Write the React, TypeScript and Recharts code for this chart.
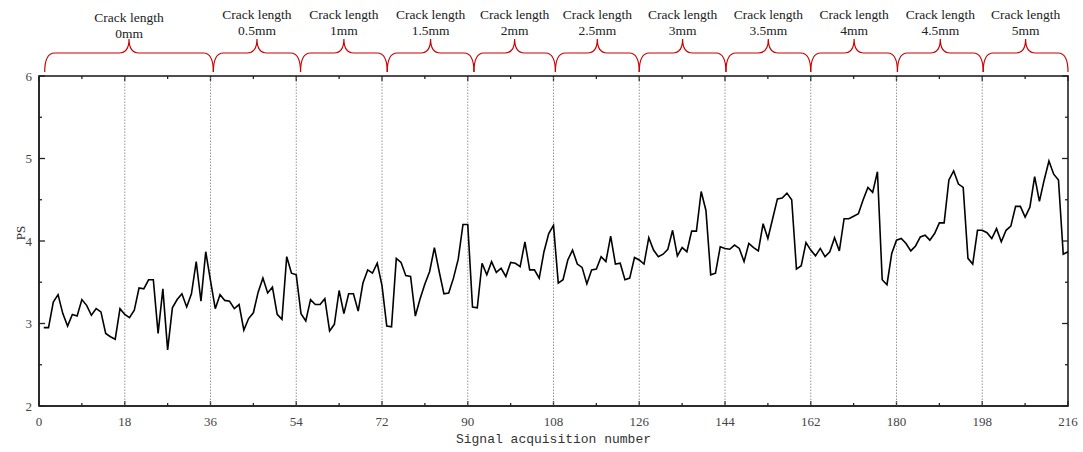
import { LineChart, Line, XAxis, YAxis, ReferenceLine, ReferenceArea } from 'recharts';

// PS value for acquisition number 1..216 (18 per crack length, first group 36)
const psValues = [
  2.95, 2.95, 3.26, 3.35, 3.12, 2.97, 3.11, 3.09, 3.29, 3.22, 3.1, 3.18, 3.14, 2.88, 2.84, 2.81, 3.18, 3.11,
  3.07, 3.16, 3.43, 3.42, 3.53, 3.53, 2.88, 3.42, 2.68, 3.19, 3.29, 3.36, 3.2, 3.36, 3.75, 3.27, 3.87, 3.52,
  3.18, 3.35, 3.28, 3.27, 3.18, 3.23, 2.92, 3.06, 3.13, 3.38, 3.55, 3.37, 3.44, 3.11, 3.05, 3.81, 3.61, 3.59,
  3.12, 3.03, 3.29, 3.23, 3.23, 3.3, 2.91, 2.99, 3.4, 3.12, 3.36, 3.36, 3.15, 3.49, 3.65, 3.61, 3.73, 3.46,
  2.97, 2.96, 3.79, 3.74, 3.58, 3.57, 3.09, 3.3, 3.48, 3.63, 3.92, 3.63, 3.36, 3.37, 3.55, 3.78, 4.2, 4.2,
  3.2, 3.19, 3.73, 3.59, 3.75, 3.62, 3.67, 3.57, 3.74, 3.73, 3.69, 3.99, 3.65, 3.65, 3.55, 3.87, 4.09, 4.19,
  3.49, 3.53, 3.77, 3.89, 3.72, 3.68, 3.48, 3.65, 3.66, 3.81, 3.75, 4.06, 3.72, 3.73, 3.53, 3.55, 3.8, 3.77,
  3.72, 4.04, 3.89, 3.81, 3.84, 3.9, 4.13, 3.82, 3.92, 3.87, 4.12, 4.12, 4.6, 4.37, 3.59, 3.61, 3.93, 3.91,
  3.9, 3.95, 3.91, 3.75, 3.97, 3.92, 3.88, 4.21, 4.03, 4.27, 4.51, 4.52, 4.58, 4.5, 3.66, 3.7, 3.98, 3.89,
  3.82, 3.91, 3.81, 3.87, 4.04, 3.88, 4.27, 4.27, 4.3, 4.33, 4.5, 4.65, 4.59, 4.84, 3.53, 3.47, 3.85, 4.01,
  4.03, 3.97, 3.88, 3.94, 4.05, 4.07, 4.01, 4.09, 4.22, 4.22, 4.74, 4.85, 4.69, 4.65, 3.79, 3.72, 4.13, 4.13,
  4.1, 4.03, 4.15, 3.99, 4.13, 4.18, 4.42, 4.42, 4.29, 4.41, 4.78, 4.48, 4.74, 4.97, 4.81, 4.74, 3.84, 3.87,
];

const xTicks = [0, 9, 18, 27, 36, 45, 54, 63, 72, 81, 90, 99, 108, 117, 126, 135, 144, 153, 162, 171, 180, 189, 198, 207, 216];
const yTicks = [2, 2.5, 3, 3.5, 4, 4.5, 5, 5.5, 6];
const groupLines = [18, 36, 54, 72, 90, 108, 126, 144, 162, 180, 198];

const crackLabels = ['0mm', '0.5mm', '1mm', '1.5mm', '2mm', '2.5mm', '3mm', '3.5mm', '4mm', '4.5mm', '5mm'];
const braceEdges = [1.2, 36.6, 54.9, 73.1, 91.3, 108.4, 126, 144.2, 162, 180.2, 198.2, 216];

const data = psValues.map((ps, i) => ({ n: i + 1, ps }));

const AXIS = '#222';
const SERIF = '"Liberation Serif", "Times New Roman", serif';
const RED = '#cc0000';
const EPS_X = 0.02;
const EPS_Y = 0.0005;

function BottomLabel({ x, y, payload }: any) {
  const v = payload.value;
  if (v % 18 !== 0) return <g />;
  return (
    <text x={x} y={Number(y) + 15} dy="0.35em" textAnchor="middle" fontFamily={SERIF} fontSize={13} fill="#444">
      {v}
    </text>
  );
}

function LeftLabel({ x, y, payload }: any) {
  const v = payload.value;
  if (!Number.isInteger(v)) return <g />;
  return (
    <text x={Number(x) - 7} y={y} dy="0.35em" textAnchor="end" fontFamily={SERIF} fontSize={13} fill="#444">
      {v}
    </text>
  );
}

// box round the plot area (the area spans the whole domain)
const frameShape = (p: any) => (
  <rect x={p.x} y={p.y} width={p.width} height={p.height} fill="none" stroke={AXIS} strokeWidth={1.6} />
);

// inward tick stubs: a thin area centred on the tick value gives the scaled position
const xStub = (major: boolean) => (p: any) => {
  const len = major ? 5 : 3;
  const cx = p.x + p.width / 2;
  const top = p.y;
  const bottom = p.y + p.height;
  return (
    <g>
      <line x1={cx} x2={cx} y1={top} y2={top + len} stroke={AXIS} strokeWidth={1.3} />
      <line x1={cx} x2={cx} y1={bottom} y2={bottom - len} stroke={AXIS} strokeWidth={1.3} />
    </g>
  );
};

const yStub = (major: boolean) => (p: any) => {
  const len = major ? 6 : 3;
  const cy = p.y + p.height / 2;
  const left = p.x;
  const right = p.x + p.width;
  return (
    <g>
      <line x1={left} x2={left + len} y1={cy} y2={cy} stroke={AXIS} strokeWidth={1.3} />
      <line x1={right} x2={right - len} y1={cy} y2={cy} stroke={AXIS} strokeWidth={1.3} />
    </g>
  );
};

function XTitle({ viewBox }: any) {
  const vb = viewBox || { x: 39, y: 406, width: 1029 };
  return (
    <text
      x={vb.x + vb.width / 2}
      y={vb.y + 32}
      dy="0.35em"
      textAnchor="middle"
      fontFamily='"Liberation Mono", "DejaVu Sans Mono", monospace'
      fontSize={13}
      fill="#333"
    >
      Signal acquisition number
    </text>
  );
}

function YTitle({ viewBox }: any) {
  const vb = viewBox || { x: 0, y: 76, height: 330 };
  const cx = 20;
  const cy = vb.y + vb.height / 2 - 8;
  return (
    <text
      x={cx}
      y={cy}
      dy="0.35em"
      textAnchor="middle"
      transform={`rotate(-90 ${cx} ${cy})`}
      fontFamily={SERIF}
      fontSize={13}
      fill="#333"
    >
      PS
    </text>
  );
}

const braceShape = (label: string, first: boolean) => (p: any) => {
  const { x, y, width } = p;
  const x1 = x;
  const x2 = x + width;
  const cx = (x1 + x2) / 2;
  const r = 10;
  const yb = y - 4;
  const ym = y - 23;
  const yt = y - 37;
  const d =
    `M${x1},${yb} Q${x1},${ym} ${x1 + r},${ym} L${cx - r},${ym} Q${cx},${ym} ${cx},${yt} ` +
    `Q${cx},${ym} ${cx + r},${ym} L${x2 - r},${ym} Q${x2},${ym} ${x2},${yb}`;
  const shift = first ? 3 : 0;
  return (
    <g>
      <path d={d} fill="none" stroke={RED} strokeWidth={1.2} />
      <text x={cx} y={y - 62 + shift} dy="0.35em" textAnchor="middle" fontFamily={SERIF} fontSize={13.5} fill="#222">
        Crack length
      </text>
      <text x={cx} y={y - 46 + shift} dy="0.35em" textAnchor="middle" fontFamily={SERIF} fontSize={13.5} fill="#222">
        {label}
      </text>
    </g>
  );
};

const axisLineStyle = { stroke: AXIS, strokeWidth: 1.5 };

export default function App() {
  return (
    <div style={{ position: 'absolute', left: 0, top: 0 }}>
      <LineChart width={1083} height={452} data={data} margin={{ top: 76, right: 15, bottom: 6, left: 0 }}>
        <XAxis
          xAxisId="b"
          dataKey="n"
          type="number"
          domain={[0, 216]}
          ticks={xTicks}
          interval={0}
          height={40}
          tickSize={0}
          tickMargin={0}
          tickLine={false}
          tick={<BottomLabel />}
          axisLine={axisLineStyle}
          label={<XTitle />}
        />
        <YAxis
          yAxisId="l"
          type="number"
          domain={[2, 6]}
          ticks={yTicks}
          interval={0}
          width={39}
          tickSize={0}
          tickMargin={0}
          tickLine={false}
          tick={<LeftLabel />}
          axisLine={axisLineStyle}
          label={<YTitle />}
        />
        {groupLines.map((g) => (
          <ReferenceLine
            key={`g${g}`}
            x={g}
            xAxisId="b"
            yAxisId="l"
            stroke="#8a8a8a"
            strokeWidth={0.9}
            strokeDasharray="1.5 1.5"
          />
        ))}
        <ReferenceArea xAxisId="b" yAxisId="l" x1={0} x2={216} y1={2} y2={6} ifOverflow="visible" shape={frameShape} />
        {xTicks.map((t) => (
          <ReferenceArea
            key={`xt${t}`}
            xAxisId="b"
            yAxisId="l"
            x1={t - EPS_X}
            x2={t + EPS_X}
            y1={2}
            y2={6}
            ifOverflow="visible"
            shape={xStub(t % 18 === 0)}
          />
        ))}
        {yTicks.map((t) => (
          <ReferenceArea
            key={`yt${t}`}
            xAxisId="b"
            yAxisId="l"
            x1={0}
            x2={216}
            y1={t - EPS_Y}
            y2={t + EPS_Y}
            ifOverflow="visible"
            shape={yStub(Number.isInteger(t))}
          />
        ))}
        {crackLabels.map((label, i) => (
          <ReferenceArea
            key={label}
            xAxisId="b"
            yAxisId="l"
            x1={braceEdges[i]}
            x2={braceEdges[i + 1]}
            y1={5.9}
            y2={6}
            shape={braceShape(label, i === 0)}
          />
        ))}
        <Line
          xAxisId="b"
          yAxisId="l"
          type="linear"
          dataKey="ps"
          stroke="#000"
          strokeWidth={1.6}
          dot={false}
          isAnimationActive={false}
        />
      </LineChart>
    </div>
  );
}
